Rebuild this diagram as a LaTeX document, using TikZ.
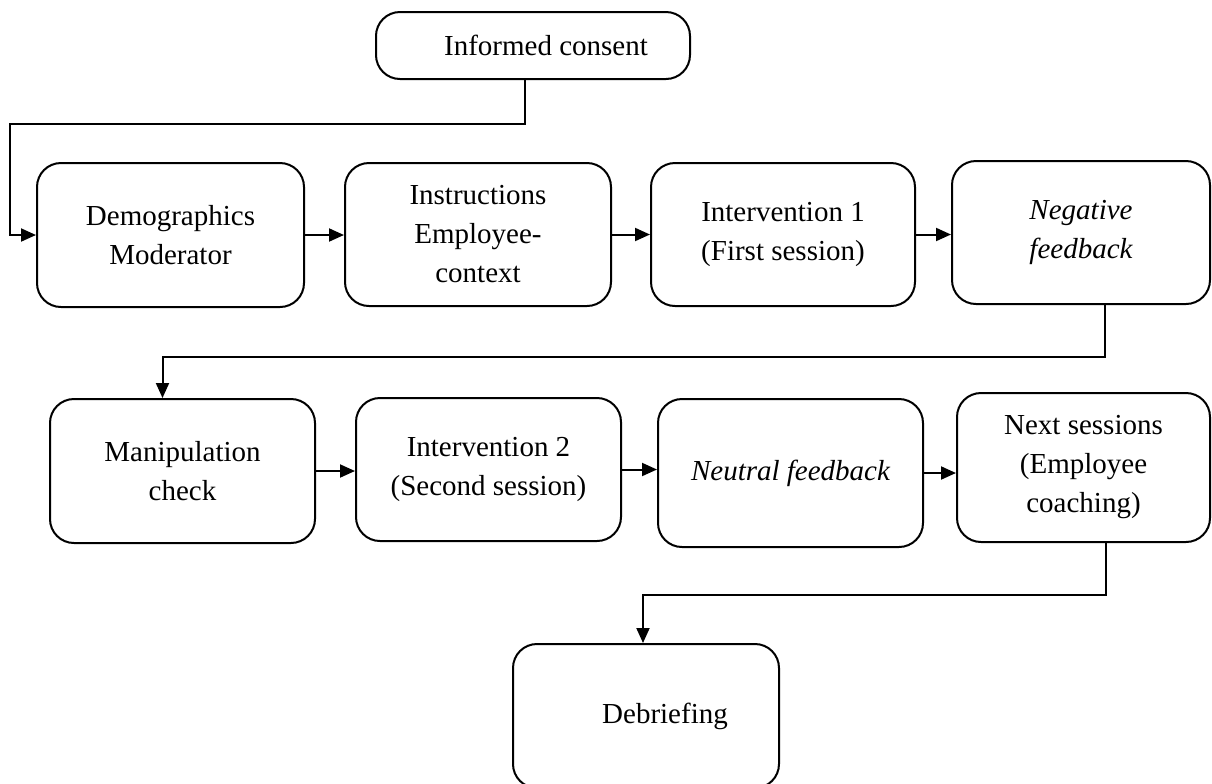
\documentclass[tikz,border=0pt]{standalone}
\usepackage{fontspec}
\setmainfont{Liberation Serif}
\usetikzlibrary{arrows.meta}
\tikzset{box/.style={draw,line width=1pt,rounded corners=12pt,align=center,inner sep=0pt,font=\fontsize{14.5}{19.5}\selectfont},
  ibox/.style={box,font=\fontsize{14.5}{19.5}\selectfont\itshape}}
\begin{document}
\begin{tikzpicture}[x=.5pt,y=-.5pt,>={Triangle[length=7.5pt,width=6.5pt]},line width=1pt]
\useasboundingbox (0,0) rectangle (1212,783);
\node[box,minimum width=157pt,minimum height=33.5pt] (ic) at (533,45.5) {\hspace*{13pt}Informed consent};
\node[box,minimum width=133.5pt,minimum height=72pt] (demo) at (170.5,235) {Demographics\\Moderator};
\node[box,minimum width=133pt,minimum height=71.5pt] (instr) at (478,234.5) {Instructions\\Employee-\\context};
\node[box,minimum width=132pt,minimum height=71.5pt] (int1) at (783,234.5) {Intervention 1\\(First session)};
\node[ibox,minimum width=129pt,minimum height=71.5pt] (neg) at (1081,232.5) {Negative\\feedback};
\node[box,minimum width=132.5pt,minimum height=72pt] (manip) at (182.5,471) {Manipulation\\check};
\node[box,minimum width=132.5pt,minimum height=71.5pt] (int2) at (488.5,469.5) {Intervention 2\\(Second session)};
\node[ibox,minimum width=132.5pt,minimum height=74pt] (neutral) at (790.5,473) {Neutral feedback};
\node[box,minimum width=126.5pt,minimum height=74.5pt] (next) at (1083.5,467.5) {Next sessions\\(Employee\\coaching)};
\node[box,minimum width=133pt,minimum height=72pt] (debrief) at (646,716) {\hspace*{19pt}Debriefing};
\draw[->] ([xshift=-4pt]ic.south) -- ++(0,44) -| ([xshift=-13pt]demo.west) -- (demo.west);
\foreach \a/\b in {demo/instr,instr/int1,int1/neg,manip/int2,int2/neutral,neutral/next}
  \draw[->] (\a.east) -- (\a.east -| \b.west);
\draw[->] ([xshift=12pt]neg.south) -- ++(0,52) -| ([xshift=-10pt]manip.north);
\draw[->] ([xshift=11pt]next.south) -- ++(0,52) -| ([xshift=-1.5pt]debrief.north);
\end{tikzpicture}
\end{document}
